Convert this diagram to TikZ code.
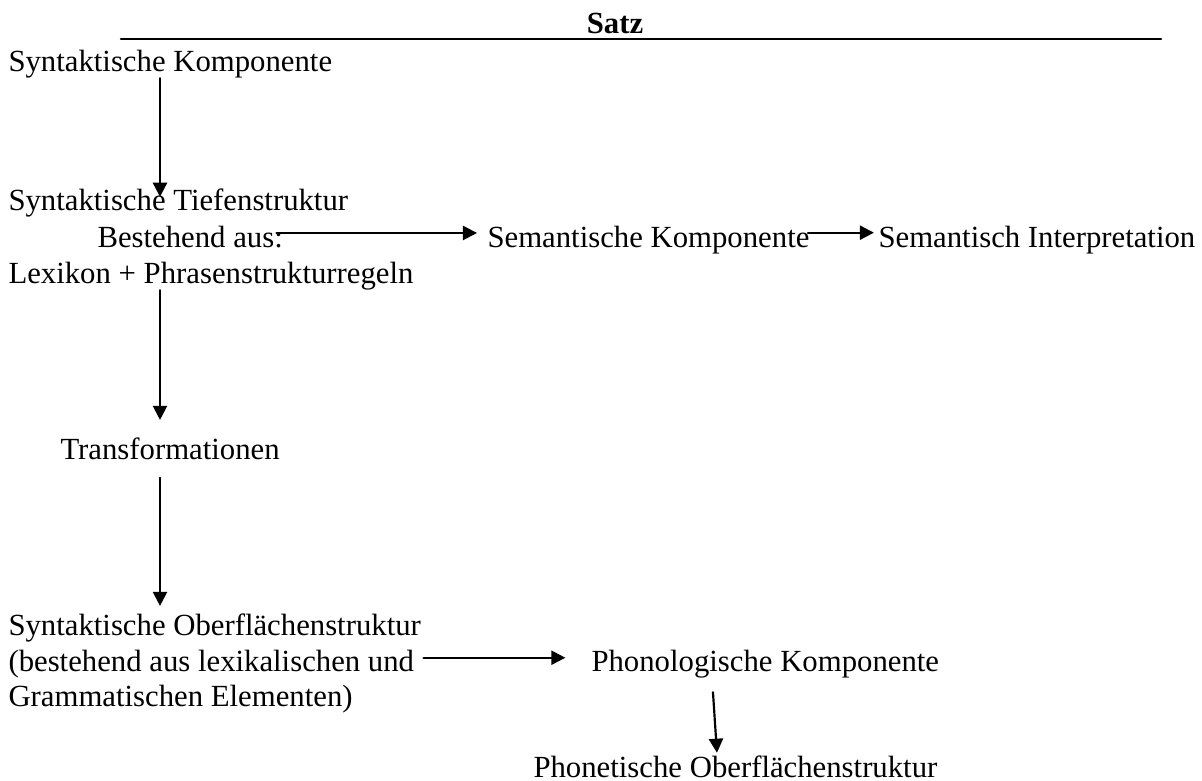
\documentclass[tikz,border=0pt]{standalone}
\usepackage{fontspec}
\setmainfont{Liberation Serif}
\usetikzlibrary{arrows.meta}

\begin{document}
\begin{tikzpicture}
			[x=0.3903pt,y=-0.3903pt,line cap=round,
			%Styles
			text line/.style={anchor=base west,inner sep=0pt,font=\fontsize{12}{14}\selectfont},
			title text/.style={anchor=base,inner sep=0pt,font=\fontsize{12}{14}\selectfont\bfseries},
			important line/.style={line width=1pt},
			pfeil/.style={line width=0.85pt,-{Triangle[length=5.5pt,width=5.5pt]}}
			]
			
			\useasboundingbox (0,0) rectangle (1202,780);
			
			%Spalte der senkrechten Pfeile
			\coordinate (ax) at (160,0);
			
			%Kopf
			\node[title text] (satz) at (615,33) {Satz};
			\coordinate (lineL) at (121,39);
			\coordinate (lineR) at (1161,39);
			\draw[important line] (lineL) -- (lineR);
			
			%Texte
			\node[text line] (komp) at (8,71) {Syntaktische Komponente};
			\node[text line] (tief) at (8,210) {Syntaktische Tiefenstruktur};
			\node[text line] (best) at (97,247) {Bestehend aus:};
			\node[text line] (semk) at (487,247) {Semantische Komponente};
			\node[text line] (semi) at (878,247) {Semantisch Interpretation};
			\node[text line] (lex) at (8,283) {Lexikon + Phrasenstrukturregeln};
			\node[text line] (trans) at (60,459) {Transformationen};
			\node[text line] (ober) at (8,635) {Syntaktische Oberflächenstruktur};
			\node[text line] (bestb) at (8,671) {(bestehend aus lexikalischen und};
			\node[text line] (gram) at (8,706) {Grammatischen Elementen)};
			\node[text line] (phon) at (591,671) {Phonologische Komponente};
			\node[text line] (phot) at (533,777) {Phonetische Oberflächenstruktur};
			
			%Pfeile
			\draw[pfeil,shorten >=-3.5pt] (komp.south -| ax) -- (tief.north -| ax);
			\draw[pfeil,shorten <=-2.7pt,shorten >=3.9pt] ([yshift=1.4pt]best.east) -- ([yshift=1.4pt]semk.west |- best.east);
			\draw[pfeil,shorten <=-0.8pt,shorten >=1.6pt] ([yshift=2.7pt]semk.east) -- ([yshift=2.7pt]semi.west);
			\draw[pfeil,shorten >=6.6pt] (lex.south -| ax) -- (trans.north -| ax);
			\draw[pfeil,shorten <=7pt,shorten >=2.7pt] (trans.south -| ax) -- (ober.north -| ax);
			\draw[pfeil,shorten <=3.5pt,shorten >=10pt] ([yshift=2.3pt]bestb.east) -- ([yshift=2.3pt]phon.west |- bestb.east);
			\draw[pfeil] ([xshift=47.6pt,yshift=-5.5pt]phon.south west) -- ([xshift=71.8pt,yshift=0.8pt]phot.north west);
		\end{tikzpicture}
\end{document}
